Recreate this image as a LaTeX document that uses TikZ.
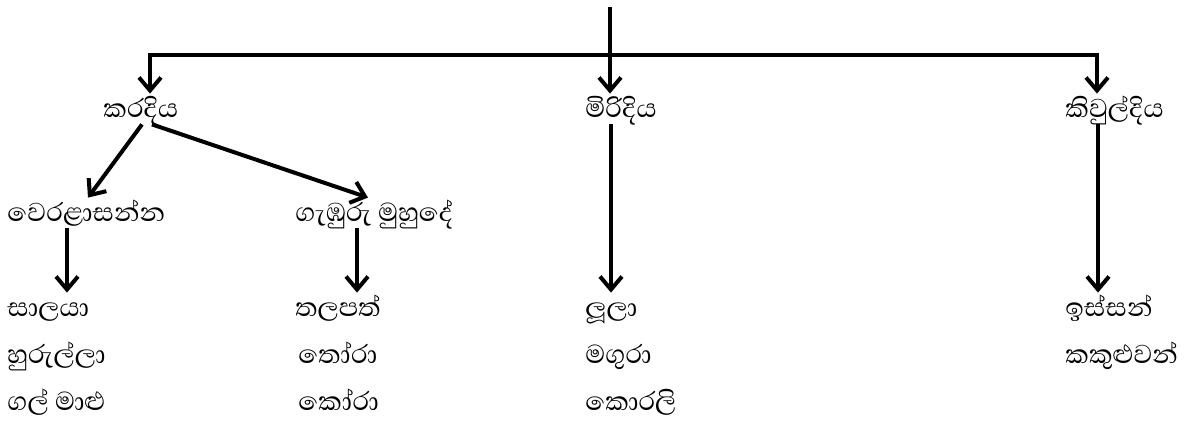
\documentclass[tikz,border=0pt]{standalone}
\usepackage{fontspec}
\newfontfamily\sinhalafont[Script=Sinhala]{Abhaya Libre}
\usetikzlibrary{arrows.meta,positioning}

\begin{document}
\begin{tikzpicture}[
	x=0.5pt,y=-0.5pt,
	word/.style={
		anchor=base west,
		inner sep=0pt,
		text height=12pt,
		text depth=3pt,
		font=\sinhalafont\fontsize{16.6}{19}\selectfont},
	myline/.style={line width=2pt},
	myarrow/.style={myline,-{Straight Barb[length=6.5pt,width=11pt]}}
	]
	\useasboundingbox (0,0) rectangle (1188,421);

	% water types
	\node[word] (kara) at (103,118) {කරදිය};
	\node[word] (miri) at (585,118) {මිරිදිය};
	\node[word] (kivul) at (1065,118) {කිවුල්දිය};
	\node[word] (vera) at (7,222) {වෙරළාසන්න};
	\node[word] (gamb) at (295,222) {ගැඹුරු මුහුදේ};

	% fish lists
	\foreach \n/\x/\y/\txt in {% name/left/baseline/text
		s1/7/317/සාලයා,
		s2/7/364/හුරුල්ලා,
		s3/7/411/ගල් මාළු,
		t1/295/317/තලපත්,
		t2/298/364/තෝරා,
		t3/298/411/කෝරා,
		l1/585/317/ලූලා,
		l2/585/364/මගුරා,
		l3/585/411/කොරලි,
		i1/1065/317/ඉස්සන්,
		i2/1065/364/කකුළුවන්}
		\node[word] (\n) at (\x,\y) {\txt};

	\coordinate (top) at (610,7);
	\coordinate (bar) at (610,55);
	\draw[myline] (top) -- (bar);
	\draw[myarrow] (bar) -| (kara.north -| 150,0);
	\draw[myarrow] (bar) -| (kivul.north -| 1097,0);
	\draw[myarrow] (bar) -- (miri.north -| 610,0);

	\draw[myarrow] (kara.south -| 142,0) -- (vera.north -| 88,0);
	\draw[myarrow] (kara.south -| 152,0) -- (gamb.north -| 368,0);

 \foreach \i/\j/\x in {% start node/end node/x of arrow
	vera/s1/67,
	gamb/t1/357,
	miri/l1/611,
	kivul/i1/1098}
	 \draw[myarrow] (\i.south -| \x,0) -- (\j.north -| \x,0);
\end{tikzpicture}
\end{document}
